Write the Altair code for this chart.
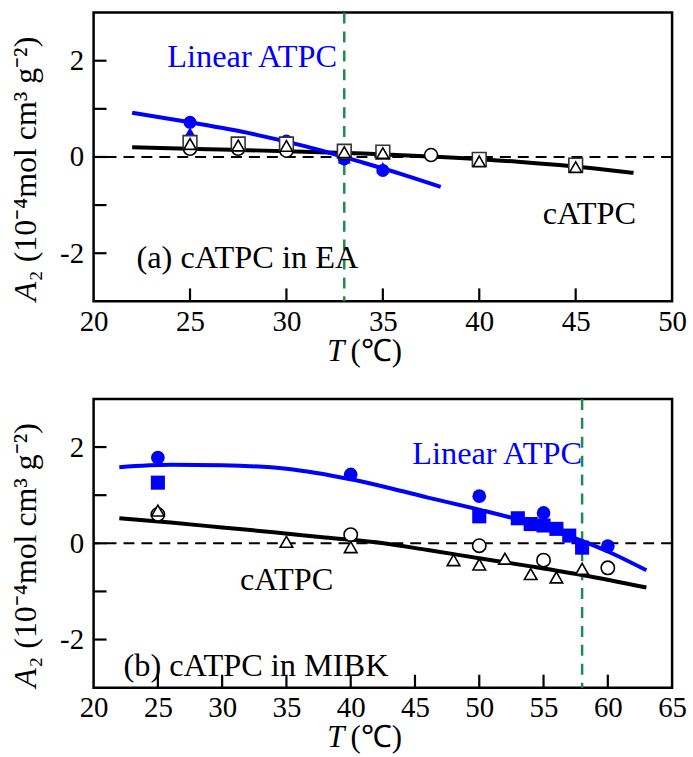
import altair as alt
import pandas as pd

FONT = "Liberation Serif"
BLUE = "#0000ff"
GREEN = "#1e8c4e"
TICK_COLOR = "black"
W, H = 581, 290

# ---------------- (a) cATPC in EA ----------------
a_xdomain = [20, 50]
a_xlabels = [20, 25, 30, 35, 40, 45, 50]
a_xticks = [25, 30, 35, 40, 45]
a_theta = 33

a_lin_circ_T = [25, 30, 33, 35]
a_lin_circ_A2 = [0.72, 0.33, -0.04, -0.28]
a_lin_tri_T = [25, 33, 35]
a_lin_tri_A2 = [0.50, -0.02, -0.22]

a_cyc_circ_T = [25, 27.5, 30, 33, 37.5]
a_cyc_circ_A2 = [0.17, 0.17, 0.13, 0.08, 0.04]
a_cyc_sq_T = [25, 27.5, 30, 33, 35, 40, 45]
a_cyc_sq_A2 = [0.30, 0.27, 0.27, 0.12, 0.10, -0.05, -0.17]
a_cyc_tri_T = [25, 27.5, 30, 33, 35, 40, 45]
a_cyc_tri_A2 = [0.27, 0.24, 0.23, 0.10, 0.08, -0.09, -0.21]

a_lin_fit_T = [22, 25, 28, 31, 34, 36, 38]
a_lin_fit_A2 = [0.92, 0.72, 0.50, 0.22, -0.12, -0.36, -0.62]
a_cyc_fit_T = [22, 26, 30, 34, 38, 42, 46, 48]
a_cyc_fit_A2 = [0.20, 0.16, 0.12, 0.07, 0.00, -0.10, -0.24, -0.33]

# ---------------- (b) cATPC in MIBK ----------------
b_xdomain = [20, 65]
b_xlabels = [20, 25, 30, 35, 40, 45, 50, 55, 60, 65]
b_xticks = [25, 30, 35, 40, 45, 50, 55, 60]
b_theta = 58

b_lin_circ_T = [25, 40, 50, 55, 60]
b_lin_circ_A2 = [1.78, 1.43, 0.98, 0.63, -0.06]
b_lin_sq_T = [25, 50, 53, 54, 55, 56, 57, 58]
b_lin_sq_A2 = [1.26, 0.56, 0.52, 0.40, 0.37, 0.30, 0.16, -0.09]

b_cyc_circ_T = [25, 40, 50, 55, 60]
b_cyc_circ_A2 = [0.60, 0.18, -0.05, -0.35, -0.51]
b_cyc_tri_T = [25, 35, 40, 48, 50, 52, 54, 56, 58]
b_cyc_tri_A2 = [0.68, 0.03, -0.08, -0.35, -0.44, -0.32, -0.64, -0.71, -0.53]

b_lin_fit_T = [22, 26, 30, 35, 40, 43, 46, 50, 54, 58, 60, 63]
b_lin_fit_A2 = [1.58, 1.63, 1.62, 1.55, 1.33, 1.15, 0.95, 0.70, 0.42, 0.05, -0.17, -0.56]
b_cyc_fit_T = [22, 26, 30, 34, 38, 42, 46, 50, 54, 58, 63]
b_cyc_fit_A2 = [0.52, 0.43, 0.33, 0.23, 0.12, 0.02, -0.14, -0.31, -0.48, -0.66, -0.92]

y_domain = [-3, 3]
y_labels = [-2, 0, 2]
y_ticks = [-2, -1, 0, 1, 2]

one = pd.DataFrame({"k": [0]})


def make_panel(xdomain, xlabels, xticks, theta, lines, markers, notes):
    xs = alt.Scale(domain=xdomain, nice=False, zero=False)
    ys = alt.Scale(domain=y_domain, nice=False, zero=False)
    xaxis = alt.Axis(values=xlabels, format="d", ticks=False, domain=False, grid=False,
                     labelFont=FONT, labelFontSize=29, labelColor="black",
                     labelPadding=6, title=None, labelFlush=False)
    yaxis = alt.Axis(values=y_labels, ticks=False, domain=False, grid=False,
                     labelFont=FONT, labelFontSize=29, labelColor="black",
                     labelPadding=10, title=None,
                     labelExpr="datum.value < 0 ? '-' + abs(datum.value) : '' + datum.value")
    X = alt.X("T:Q", scale=xs, axis=xaxis)
    Y = alt.Y("A2:Q", scale=ys, axis=yaxis)

    layers = []
    # zero reference line
    layers.append(alt.Chart(pd.DataFrame({"A2": [0]})).mark_rule(
        color="black", strokeWidth=2, strokeDash=[11, 7]).encode(y=Y))
    # theta temperature
    layers.append(alt.Chart(pd.DataFrame({"T": [theta]})).mark_rule(
        color=GREEN, strokeWidth=2.5, strokeDash=[11, 8]).encode(x=X))
    # inward ticks
    layers.append(alt.Chart(pd.DataFrame({"T": xticks})).mark_tick(
        color=TICK_COLOR, thickness=2.2, size=13, orient="vertical", opacity=1).encode(
        x=X, y=alt.value(H - 6.5)))
    layers.append(alt.Chart(pd.DataFrame({"A2": y_ticks})).mark_tick(
        color=TICK_COLOR, thickness=2.2, size=13, orient="horizontal", opacity=1).encode(
        y=Y, x=alt.value(6.5)))
    # fitted curves
    for T, A2, color in lines:
        layers.append(alt.Chart(pd.DataFrame({"T": T, "A2": A2})).mark_line(
            color=color, strokeWidth=4, interpolate="monotone").encode(x=X, y=Y))
    # data points
    for T, A2, shape, fill, stroke, size in markers:
        layers.append(alt.Chart(pd.DataFrame({"T": T, "A2": A2})).mark_point(
            shape=shape, filled=True, fill=fill, stroke=stroke,
            strokeWidth=1.6 if fill == "white" else 0, size=size, opacity=1).encode(x=X, y=Y))
    # annotations
    for text, xpos, ypos, color in notes:
        layers.append(alt.Chart(one).mark_text(
            text=text, font=FONT, fontSize=32.5, color=color, align="left",
            baseline="alphabetic").encode(x=alt.value(xpos), y=alt.value(ypos)))
    # x-axis title: italic T followed by the unit
    layers.append(alt.Chart(one).mark_text(
        text="T", font=FONT, fontSize=31, fontStyle="italic", align="right",
        baseline="alphabetic").encode(x=alt.value(252), y=alt.value(H + 60)))
    layers.append(alt.Chart(one).mark_text(
        text="(℃)", font=FONT, fontSize=31, align="left",
        baseline="alphabetic").encode(x=alt.value(258), y=alt.value(H + 60)))
    # y-axis title, rotated to read upwards: italic A then the rest
    base_x = -58
    layers.append(alt.Chart(one).mark_text(
        text="A", font=FONT, fontSize=32, fontStyle="italic", angle=270,
        align="left", baseline="alphabetic", color="black").encode(
        x=alt.value(base_x), y=alt.value(290)))
    layers.append(alt.Chart(one).mark_text(
        text="₂ (10⁻⁴mol cm³ g⁻²)", font=FONT, fontSize=32, angle=270,
        align="left", baseline="alphabetic", color="black").encode(
        x=alt.value(base_x), y=alt.value(270)))
    return alt.layer(*layers).properties(width=W, height=H)


top = make_panel(
    a_xdomain, a_xlabels, a_xticks, a_theta,
    lines=[(a_cyc_fit_T, a_cyc_fit_A2, "black"), (a_lin_fit_T, a_lin_fit_A2, BLUE)],
    markers=[
        (a_lin_tri_T, a_lin_tri_A2, "triangle-up", BLUE, BLUE, 170),
        (a_lin_circ_T, a_lin_circ_A2, "circle", BLUE, BLUE, 170),
        (a_cyc_circ_T, a_cyc_circ_A2, "circle", "white", "black", 170),
        (a_cyc_sq_T, a_cyc_sq_A2, "square", "white", "#333333", 190),
        (a_cyc_tri_T, a_cyc_tri_A2, "triangle-up", "white", "black", 150),
    ],
    notes=[
        ("Linear ATPC", 74, 55, BLUE),
        ("cATPC", 451, 212, "black"),
        ("(a) cATPC in EA", 43, 257, "black"),
    ],
)

bottom = make_panel(
    b_xdomain, b_xlabels, b_xticks, b_theta,
    lines=[(b_cyc_fit_T, b_cyc_fit_A2, "black"), (b_lin_fit_T, b_lin_fit_A2, BLUE)],
    markers=[
        (b_lin_circ_T, b_lin_circ_A2, "circle", BLUE, BLUE, 190),
        (b_lin_sq_T, b_lin_sq_A2, "square", BLUE, BLUE, 200),
        (b_cyc_circ_T, b_cyc_circ_A2, "circle", "white", "black", 180),
        (b_cyc_tri_T, b_cyc_tri_A2, "triangle-up", "white", "black", 160),
    ],
    notes=[
        ("Linear ATPC", 320, 65, BLUE),
        ("cATPC", 147, 192, "black"),
        ("(b) cATPC in MIBK", 30, 278, "black"),
    ],
)

chart = alt.vconcat(top, bottom, spacing=27).properties(
    padding={"left": 8, "top": 8, "right": 5, "bottom": 5},
    background="white",
).configure_view(stroke="black", strokeWidth=2.5)

chart.save("out.html", embed_options={"renderer": "svg", "actions": False})
